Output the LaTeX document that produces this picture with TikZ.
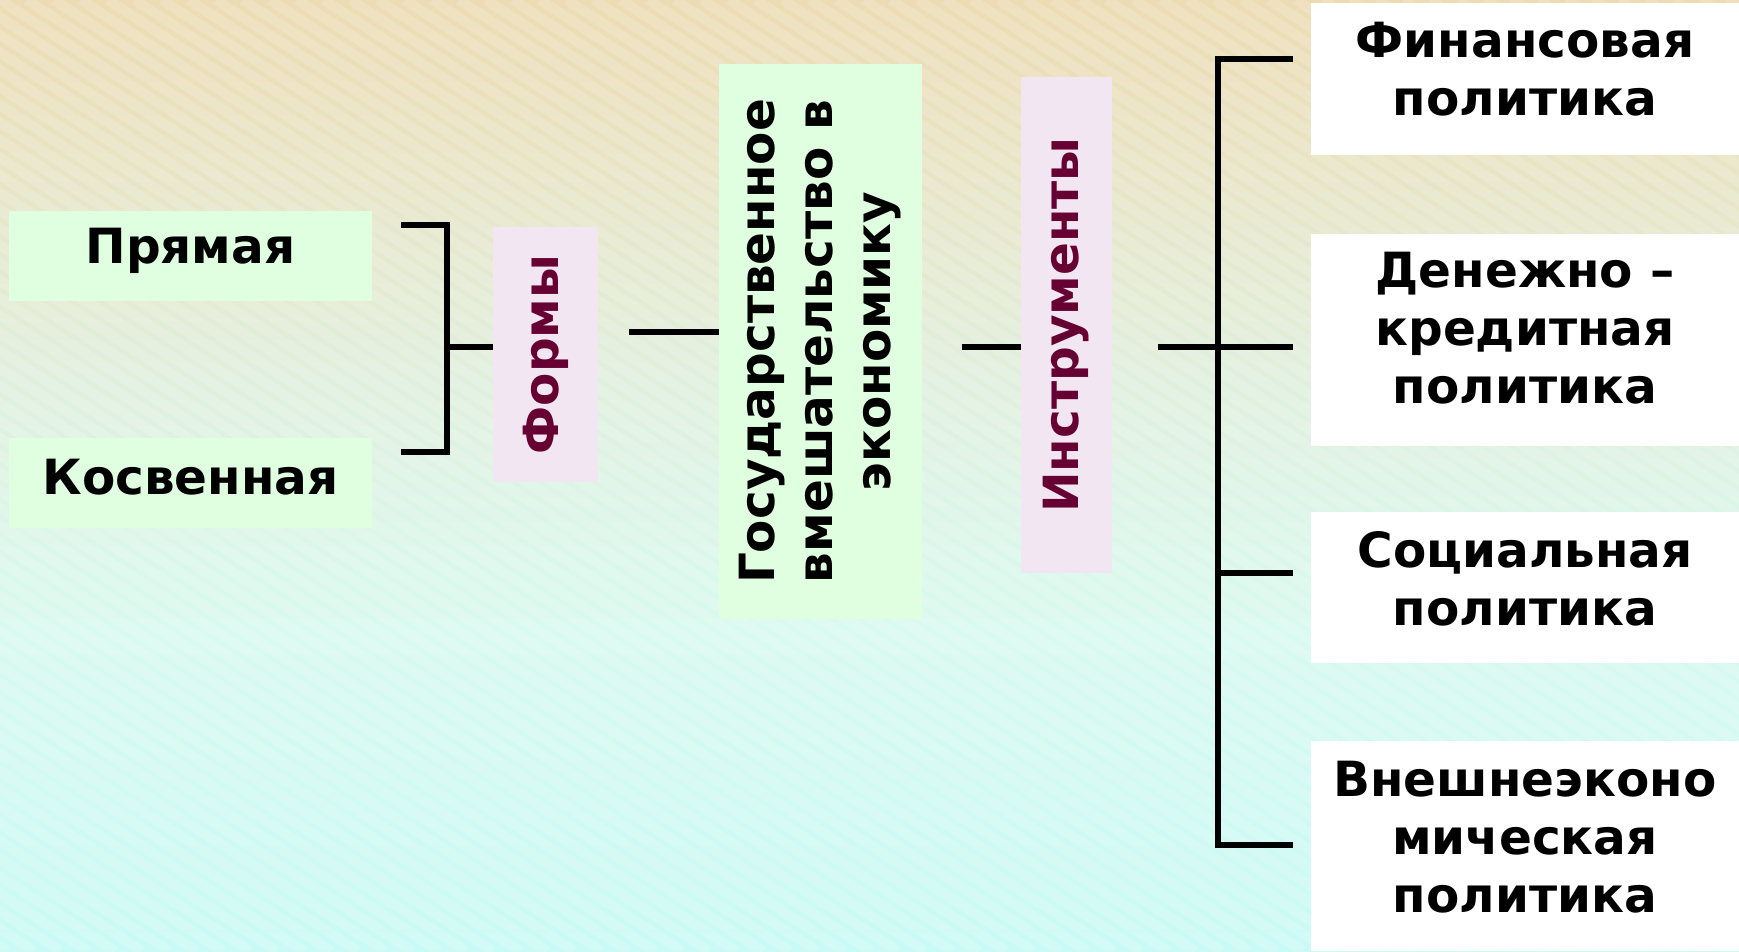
\documentclass[tikz,border=0pt]{standalone}
\usepackage{fontspec}
\usepackage{graphicx}
\setmainfont{DejaVu Sans}
\definecolor{boxgreen}{RGB}{224,255,224}
\definecolor{boxpink}{RGB}{242,230,242}
\definecolor{darkplum}{RGB}{102,0,51}
\pgfdeclareverticalshading{bgshade}{100bp}{rgb(0bp)=(0.69,0.96,0.95); rgb(25bp)=(0.79,0.98,0.96); rgb(42bp)=(0.85,0.98,0.94); rgb(55bp)=(0.88,0.94,0.87); rgb(70bp)=(0.92,0.88,0.74); rgb(85bp)=(0.94,0.83,0.64); rgb(100bp)=(0.95,0.78,0.56)}
\begin{document}
\begin{tikzpicture}[x=1pt,y=-1pt,
  lbl/.style={font=\fontsize{48.5}{58}\selectfont\bfseries, align=center, inner sep=0pt, text=black},
  gbox/.style={lbl, fill=boxgreen},
  pbox/.style={lbl, fill=boxpink, text=darkplum},
  wbox/.style={fill=white, minimum width=428, inner sep=0pt},
  conn/.style={line width=5.5pt, black}]
% background
\useasboundingbox (0,0) rectangle (1739,951);
\shade[shading=bgshade] (0,0) rectangle (1739,951);
\begin{scope}
  \clip (0,0) rectangle (1739,951);
  \foreach \i in {-60,...,70}
    \draw[white, opacity=0.16, line width=10pt] (\i*27,0) -- ++(1465,951);
\end{scope}
% nodes
\node[gbox, minimum width=363, minimum height=90] (pryam) at (190.5,256) {};
\node[lbl] at ([yshift=5pt]pryam.center) {Прямая};
\node[gbox, minimum width=363, minimum height=90] (kosv) at (190.5,483) {};
\node[lbl] at ([yshift=6pt]kosv.center) {Косвенная};
\node[pbox, minimum width=105, minimum height=255] (formy) at (545.5,354.5) {\rotatebox{90}{Формы}};
\node[gbox, minimum width=203, minimum height=555] (gos) at (820.5,341.5)
  {\rotatebox{90}{\begin{tabular}{@{}c@{}}Государственное\\вмешательство в\\экономику\end{tabular}}};
\node[pbox, minimum width=91, minimum height=496] (instr) at (1066.5,325) {\rotatebox{90}{Инструменты}};
\node[wbox, minimum height=152] (fin) at (1525,79) {};
\node[lbl] at ([yshift=10pt]fin.center) {Финансовая\\политика};
\node[wbox, minimum height=212] (den) at (1525,340) {};
\node[lbl] at ([yshift=12pt]den.center) {Денежно –\\кредитная\\политика};
\node[wbox, minimum height=151] (soc) at (1525,587.5) {};
\node[lbl] at ([yshift=9pt]soc.center) {Социальная\\политика};
\node[wbox, minimum height=210] (vne) at (1525,846) {};
\node[lbl] at ([yshift=9pt]vne.center) {Внешнеэконо\\мическая\\политика};
% coordinates
\coordinate (bt) at (401,225);
\coordinate (bb) at (401,452);
\coordinate (bm) at (447,347);
\coordinate (c1) at (629,332);
\coordinate (c2) at (962,347);
\coordinate (c3) at (1158,347);
\coordinate (tr) at (1218,347);
\coordinate (e1) at (1293,59);
\coordinate (e2) at (1293,347);
\coordinate (e3) at (1293,573);
\coordinate (e4) at (1293,845);
% connectors
\draw[conn] (bt) -- (bt -| bm) -- (bb -| bm) -- (bb);
\draw[conn] (bm) -- (bm -| formy.west);
\draw[conn] (c1) -- (c1 -| gos.west);
\draw[conn] (c2) -- (c2 -| instr.west);
\draw[conn] (c3) -- (e2);
\draw[conn] (e1) -- (e1 -| tr) -- (e4 -| tr) -- (e4);
\draw[conn] (e3 -| tr) -- (e3);
\end{tikzpicture}
\end{document}
